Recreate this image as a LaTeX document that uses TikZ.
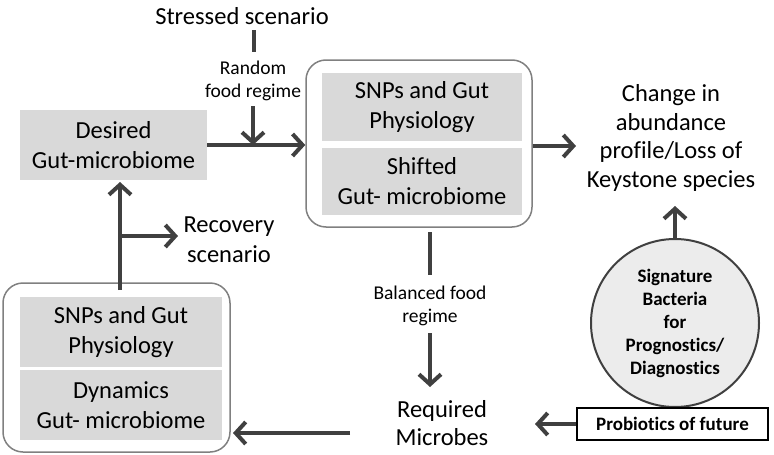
\documentclass[tikz,border=0pt]{standalone}
\usepackage{fontspec}
\setmainfont{Carlito}[Ligatures=NoCommon]
\usetikzlibrary{arrows.meta,calc}
\definecolor{arrc}{HTML}{404040}
\definecolor{boxg}{HTML}{D9D9D9}
\definecolor{rimg}{HTML}{808080}
\definecolor{circg}{HTML}{ECECEC}
\begin{document}
\begin{tikzpicture}[x=1pt,y=-1pt,
  big/.style={font=\fontsize{24.5}{30}\selectfont, align=center, text=black, inner sep=0pt},
  small/.style={font=\fontsize{19.5}{23}\selectfont, align=center, inner sep=0pt},
  boldt/.style={font=\fontsize{19}{23}\selectfont\bfseries, align=center, inner sep=0pt},
  graybox/.style={big, fill=boxg},
  outer/.style={draw=rimg, line width=1.5pt, rounded corners=20pt, fill=white},
  arr/.style={draw=arrc, line width=4pt, -{Straight Barb[length=10pt,width=22pt]}},
  ln/.style={draw=arrc, line width=4pt}]
\useasboundingbox (0,0) rectangle (774,455);

% top stressed scenario
\node[big] (stress) at (242,16) {Stressed scenario};
\coordinate (s1) at (254,30);
\coordinate (s2) at (254,52);
\draw[ln] (s1) -- (s2);
\node[small] (random) at (253,81) {Random\\food regime};
\coordinate (r1) at (253,106);

% desired
\node[graybox, minimum width=187pt, minimum height=70pt] (desired) at (113.5,145) {Desired\\Gut-microbiome};

% middle box
\node[outer, minimum width=226pt, minimum height=167pt] (mid) at (419,143.5) {};
\node[graybox, minimum width=200pt, minimum height=68pt] (snp1) at (422,107) {SNPs and Gut\\Physiology};
\node[graybox, minimum width=200pt, minimum height=67pt] (shift) at (422,181.5) {Shifted\\Gut- microbiome};

\draw[arr] (desired.east) -- (desired.east -| mid.west);
\draw[arr] (r1) -- (r1 |- desired.east);

% change text
\node[big, font=\fontsize{24.5}{28.5}\selectfont] (change) at (671,138) {Change in\\abundance\\profile/Loss of\\Keystone species};
\coordinate (c1) at (576,146);
\draw[arr] (mid.east |- c1) -- (c1);

% signature circle
\node[circle, draw=arrc, line width=2pt, fill=circg, minimum size=168pt, boldt] (sig) at (675,323) {Signature\\Bacteria\\for\\Prognostics/\\Diagnostics};
\coordinate (c2) at (675,206);
\draw[arr] (sig.north) -- (c2);

% probiotics
\node[draw=black, line width=1.5pt, fill=white, minimum width=191pt, minimum height=32pt, boldt] (prob) at (672.5,424) {Probiotics of future};

% required microbes
\node[big, font=\fontsize{24.5}{28}\selectfont] (req) at (442,423) {Required\\Microbes};
\coordinate (p1) at (535,424);
\draw[arr] (prob.west) -- (p1);

% balanced
\node[small] (bal) at (430,306) {Balanced food\\regime};
\coordinate (b1) at (430,232);
\coordinate (b2) at (430,275);
\coordinate (b3) at (430,333);
\coordinate (b4) at (430,387);
\draw[ln] (b1) -- (b2);
\draw[arr] (b3) -- (b4);

% bottom box
\node[outer, minimum width=227pt, minimum height=169pt] (bot) at (116.5,367.5) {};
\node[graybox, minimum width=202pt, minimum height=70pt] (snp2) at (121,332) {SNPs and Gut\\Physiology};
\node[graybox, minimum width=202pt, minimum height=70pt] (dyn) at (121,405) {Dynamics\\Gut- microbiome};

\coordinate (q1) at (350,433);
\coordinate (q2) at (233,433);
\draw[arr] (q1) -- (q2);

% recovery
\coordinate (u1) at (120,290);
\coordinate (u2) at (120,182);
\draw[arr] (u1) -- (u2);
\coordinate (k1) at (120,236);
\coordinate (k2) at (178,236);
\draw[arr] (k1) -- (k2);
\node[big] (rec) at (229,240) {Recovery\\scenario};
\end{tikzpicture}
\end{document}
